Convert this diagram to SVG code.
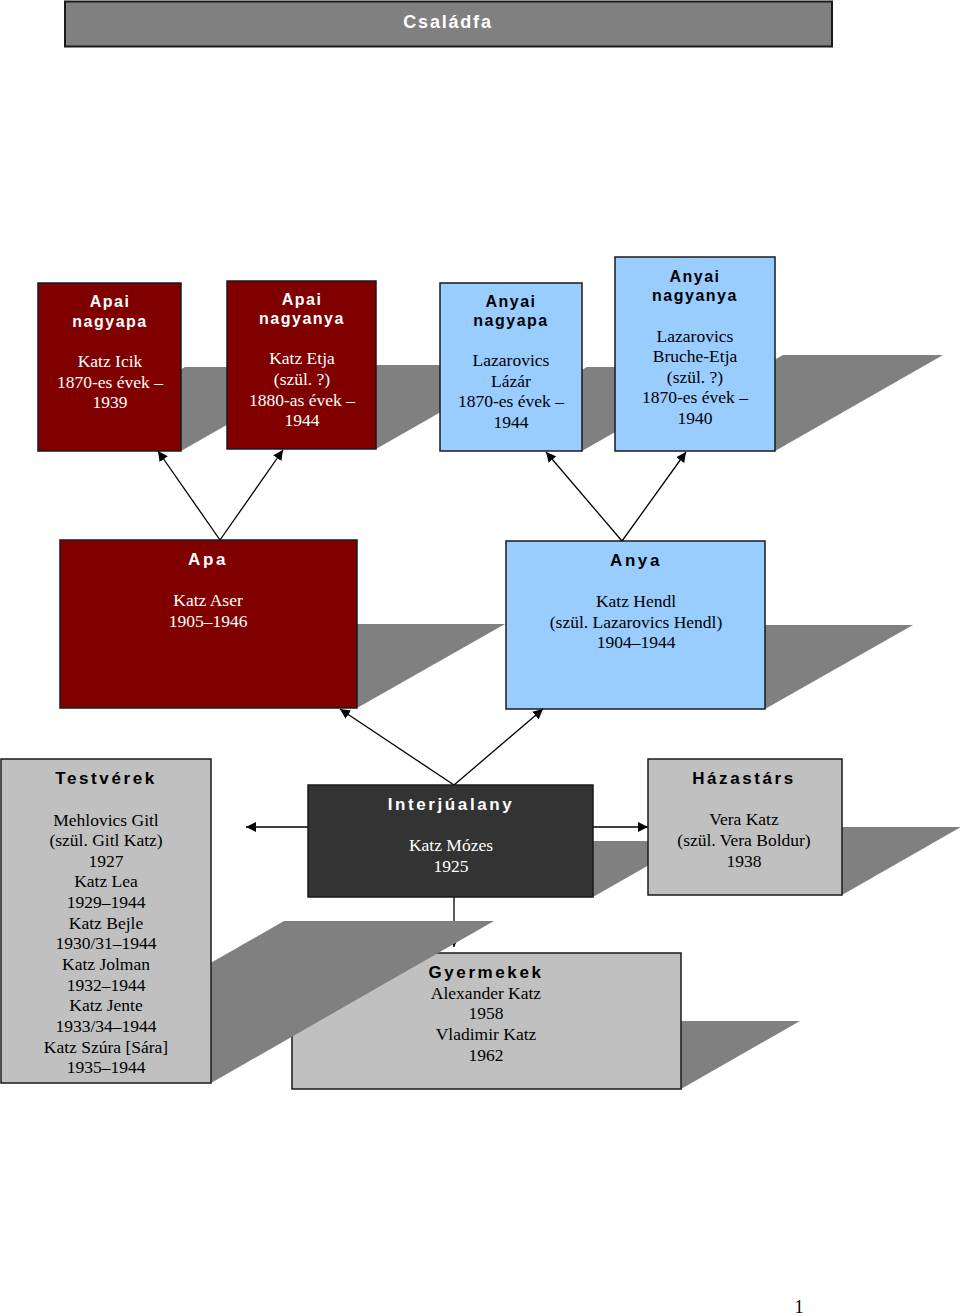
<svg xmlns="http://www.w3.org/2000/svg" width="960" height="1316" viewBox="0 0 960 1316">
<defs>
<marker id="ah" viewBox="0 0 10 10" refX="10" refY="5" markerWidth="10" markerHeight="10" markerUnits="userSpaceOnUse" orient="auto">
<path d="M0,0 L10,5 L0,10 z" fill="#000"/>
</marker>
<style>
.box{stroke:#1a1a1a;stroke-width:1.5}
.red{fill:#800000}
.blue{fill:#99CCFF}
.gray{fill:#C0C0C0}
.dark{fill:#333333}
.sh{fill:#808080}
.h{font-family:"Liberation Sans",Arial,sans-serif;font-weight:bold;font-size:16px;text-anchor:middle;letter-spacing:1.5px}
.h2{font-family:"Liberation Sans",Arial,sans-serif;font-weight:bold;font-size:17px;text-anchor:middle;letter-spacing:2.6px}
.b{font-family:"Liberation Serif","Times New Roman",serif;font-size:17.5px;text-anchor:middle}
.w{fill:#fff}
.k{fill:#000}
.con{stroke:#000;stroke-width:1.3;fill:none}
</style>
</defs>
<rect width="960" height="1316" fill="#fff"/>

<g id="title">
<rect x="65" y="1.5" width="767" height="45" fill="#808080" stroke="#1a1a1a" stroke-width="2"/>
<text x="448" y="28" class="h2 w" style="font-size:18px;letter-spacing:1.8px">Családfa</text>
</g>

<g id="apai-nagyapa">
<polygon class="sh" points="38,451 185,367 328,367 181,451"/>
<rect class="box red" x="38" y="283" width="143" height="168"/>
<text class="h w" x="110" y="307">Apai</text>
<text class="h w" x="110" y="327">nagyapa</text>
<text class="b w" x="110" y="367">Katz Icik</text>
<text class="b w" x="110" y="388">1870-es évek –</text>
<text class="b w" x="110" y="408">1939</text>
</g>

<g id="apai-nagyanya">
<polygon class="sh" points="227,449 374,365 523,365 376,449"/>
<rect class="box red" x="227" y="281" width="149" height="168"/>
<text class="h w" x="302" y="305">Apai</text>
<text class="h w" x="302" y="324">nagyanya</text>
<text class="b w" x="302" y="364">Katz Etja</text>
<text class="b w" x="302" y="385">(szül. ?)</text>
<text class="b w" x="302" y="406">1880-as évek –</text>
<text class="b w" x="302" y="426">1944</text>
</g>

<g id="anyai-nagyapa">
<polygon class="sh" points="440,451 587,367 729,367 582,451"/>
<rect class="box blue" x="440" y="283" width="142" height="168"/>
<text class="h k" x="511" y="307">Anyai</text>
<text class="h k" x="511" y="326">nagyapa</text>
<text class="b k" x="511" y="366">Lazarovics</text>
<text class="b k" x="511" y="387">Lázár</text>
<text class="b k" x="511" y="407">1870-es évek –</text>
<text class="b k" x="511" y="428">1944</text>
</g>

<g id="anyai-nagyanya">
<polygon class="sh" points="615,451 783,355 943,355 775,451"/>
<rect class="box blue" x="615" y="257" width="160" height="194"/>
<text class="h k" x="695" y="282">Anyai</text>
<text class="h k" x="695" y="301">nagyanya</text>
<text class="b k" x="695" y="342">Lazarovics</text>
<text class="b k" x="695" y="362">Bruche-Etja</text>
<text class="b k" x="695" y="383">(szül. ?)</text>
<text class="b k" x="695" y="403">1870-es évek –</text>
<text class="b k" x="695" y="424">1940</text>
</g>

<g id="apa">
<polygon class="sh" points="60,708 208,624 505,624 357,708"/>
<rect class="box red" x="60" y="540" width="297" height="168"/>
<text class="h2 w" x="208" y="565">Apa</text>
<text class="b w" x="208" y="606">Katz Aser</text>
<text class="b w" x="208" y="627">1905–1946</text>
</g>

<g id="anya">
<polygon class="sh" points="506,709 654,625 913,625 765,709"/>
<rect class="box blue" x="506" y="541" width="259" height="168"/>
<text class="h2 k" x="636" y="566">Anya</text>
<text class="b k" x="636" y="607">Katz Hendl</text>
<text class="b k" x="636" y="628">(szül. Lazarovics Hendl)</text>
<text class="b k" x="636" y="648">1904–1944</text>
</g>

<g id="connectors">
<line class="con" x1="220" y1="540" x2="158" y2="451" marker-end="url(#ah)"/>
<line class="con" x1="220" y1="540" x2="283" y2="450" marker-end="url(#ah)"/>
<line class="con" x1="622" y1="541" x2="546" y2="452" marker-end="url(#ah)"/>
<line class="con" x1="622" y1="541" x2="686" y2="452" marker-end="url(#ah)"/>
<line class="con" x1="454" y1="785" x2="340" y2="709" marker-end="url(#ah)"/>
<line class="con" x1="454" y1="785" x2="543" y2="709" marker-end="url(#ah)"/>
<line class="con" x1="308" y1="827" x2="246" y2="827" marker-end="url(#ah)"/>
<line class="con" x1="593" y1="827" x2="648" y2="827" marker-end="url(#ah)"/>
<line class="con" x1="454" y1="897" x2="454" y2="947" marker-end="url(#ah)"/>
</g>

<g id="interjualany">
<polygon class="sh" points="308,897 406,841 691,841 593,897"/>
<rect class="box dark" x="308" y="785" width="285" height="112"/>
<text class="h2 w" x="451" y="810">Interjúalany</text>
<text class="b w" x="451" y="851">Katz Mózes</text>
<text class="b w" x="451" y="872">1925</text>
</g>

<g id="hazastars">
<polygon class="sh" points="648,895 767,827 961,827 842,895"/>
<rect class="box gray" x="648" y="759" width="194" height="136"/>
<text class="h2 k" x="744" y="784">Házastárs</text>
<text class="b k" x="744" y="825">Vera Katz</text>
<text class="b k" x="744" y="846">(szül. Vera Boldur)</text>
<text class="b k" x="744" y="867">1938</text>
</g>

<g id="gyermekek">
<polygon class="sh" points="292,1089 411,1021 800,1021 681,1089"/>
<rect class="box gray" x="292" y="953" width="389" height="136"/>
<text class="h2 k" x="486" y="978">Gyermekek</text>
<text class="b k" x="486" y="999">Alexander Katz</text>
<text class="b k" x="486" y="1019">1958</text>
<text class="b k" x="486" y="1040">Vladimir Katz</text>
<text class="b k" x="486" y="1061">1962</text>
</g>

<g id="testverek">
<polygon class="sh" points="1,1083 284,921 494,921 211,1083"/>
<rect class="box gray" x="1" y="759" width="210" height="324"/>
<text class="h2 k" x="106" y="784">Testvérek</text>
<text class="b k" x="106" y="826">Mehlovics Gitl</text>
<text class="b k" x="106" y="846">(szül. Gitl Katz)</text>
<text class="b k" x="106" y="867">1927</text>
<text class="b k" x="106" y="887">Katz Lea</text>
<text class="b k" x="106" y="908">1929–1944</text>
<text class="b k" x="106" y="929">Katz Bejle</text>
<text class="b k" x="106" y="949">1930/31–1944</text>
<text class="b k" x="106" y="970">Katz Jolman</text>
<text class="b k" x="106" y="991">1932–1944</text>
<text class="b k" x="106" y="1011">Katz Jente</text>
<text class="b k" x="106" y="1032">1933/34–1944</text>
<text class="b k" x="106" y="1053">Katz Szúra [Sára]</text>
<text class="b k" x="106" y="1073">1935–1944</text>
</g>

<text x="799" y="1313" style="font-family:'Liberation Serif','Times New Roman',serif;font-size:18px;text-anchor:middle" fill="#000">1</text>
</svg>
